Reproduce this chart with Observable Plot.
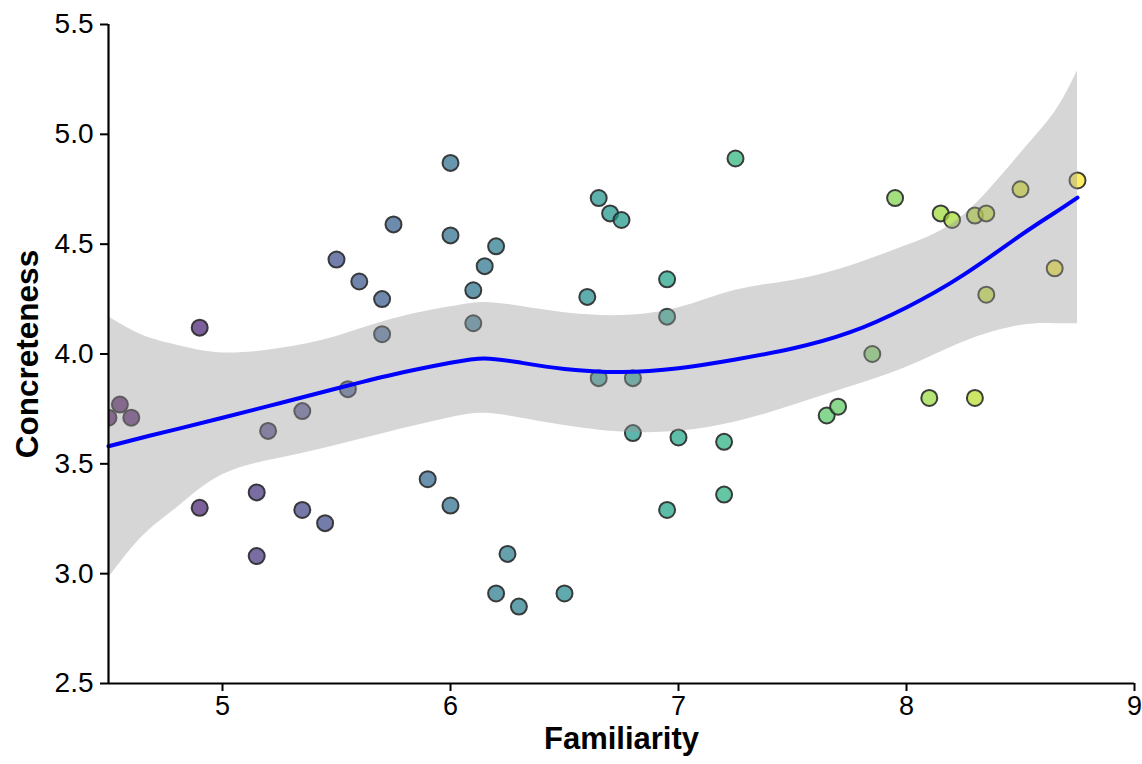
<!DOCTYPE html>
<html>
<head>
<meta charset="utf-8">
<script src="https://cdn.jsdelivr.net/npm/d3@7"></script>
<script src="https://cdn.jsdelivr.net/npm/@observablehq/plot@0.6"></script>
<style>
  html, body { margin: 0; padding: 0; background: #fff; }
  #chart svg { display: block; }
</style>
</head>
<body>
<div id="chart"></div>
<script>
// Scatter points
const familiarity = [4.5,4.55,4.6,4.9,4.9,5.15,5.15,5.2,5.35,5.35,5.45,5.5,5.55,5.6,5.7,5.7,5.75,5.9,6.0,6.0,6.0,6.1,6.1,6.15,6.2,6.2,6.25,6.3,6.5,6.6,6.65,6.65,6.7,6.75,6.8,6.8,6.95,6.95,6.95,7.0,7.2,7.2,7.25,7.65,7.7,7.85,7.95,8.1,8.15,8.2,8.3,8.3,8.35,8.35,8.5,8.65,8.75];
const concreteness = [3.71,3.77,3.71,4.12,3.30,3.37,3.08,3.65,3.74,3.29,3.23,4.43,3.84,4.33,4.25,4.09,4.59,3.43,4.87,4.54,3.31,4.29,4.14,4.40,4.49,2.91,3.09,2.85,2.91,4.26,4.71,3.89,4.64,4.61,3.89,3.64,4.34,4.17,3.29,3.62,3.60,3.36,4.89,3.72,3.76,4.00,4.71,3.80,4.64,4.61,4.63,3.80,4.64,4.27,4.75,4.39,4.79];

// Smoothed fit and confidence band
const smoothX   = [4.5, 4.65, 4.8, 5.0, 5.25, 5.5, 5.75, 6.0, 6.15, 6.3, 6.5, 6.75, 7.0, 7.25, 7.5, 7.75, 8.0, 8.25, 8.5, 8.65, 8.75];
const smoothFit = [3.58, 3.62, 3.658, 3.71, 3.776, 3.843, 3.907, 3.96, 3.98, 3.962, 3.932, 3.918, 3.935, 3.975, 4.025, 4.098, 4.212, 4.36, 4.54, 4.643, 4.712];
const smoothLo  = [2.98, 3.17, 3.30, 3.45, 3.525, 3.585, 3.65, 3.71, 3.73, 3.71, 3.675, 3.645, 3.648, 3.69, 3.765, 3.85, 3.94, 4.055, 4.13, 4.138, 4.138];
const smoothHi  = [4.17, 4.085, 4.04, 4.005, 4.025, 4.08, 4.16, 4.215, 4.235, 4.218, 4.188, 4.175, 4.21, 4.29, 4.335, 4.40, 4.494, 4.632, 4.913, 5.1, 5.29];

// Axis ticks and titles
const xTicks = [5, 6, 7, 8, 9];
const yTicks = [2.5, 3.0, 3.5, 4.0, 4.5, 5.0, 5.5];
const xTitle = "Familiarity";
const yTitle = "Concreteness";

const points = familiarity.map((f, i) => ({fam: f, conc: concreteness[i]}));
const smooth = smoothX.map((x, i) => ({x, fit: smoothFit[i], lo: smoothLo[i], hi: smoothHi[i]}));

const font = "'Liberation Sans', Arial, Helvetica, sans-serif";

const chart = Plot.plot({
  width: 1142,
  height: 764,
  marginLeft: 108,
  marginRight: 8,
  marginTop: 24,
  marginBottom: 81,
  style: {fontFamily: font, color: "#000", background: "#fff"},
  x: {domain: [4.5, 9]},
  y: {domain: [2.5, 5.5]},
  color: {type: "linear", scheme: "viridis", domain: [4.5, 8.75]},
  marks: [
    Plot.dot(points, {x: "fam", y: "conc", r: 8, fill: "fam", fillOpacity: 0.72, stroke: "#2a2a2a", strokeOpacity: 0.9, strokeWidth: 2, clip: true}),
    Plot.areaY(smooth, {x: "x", y1: "lo", y2: "hi", fill: "#999999", fillOpacity: 0.4, curve: "natural"}),
    Plot.line(smooth, {x: "x", y: "fit", stroke: "#0000ff", strokeWidth: 4, curve: "natural"}),
    Plot.ruleX([4.5], {stroke: "#000", strokeWidth: 2.2}),
    Plot.ruleY([2.5], {stroke: "#000", strokeWidth: 2.2}),
    Plot.axisX({ticks: xTicks, tickSize: 8, tickPadding: 4, fontSize: 27, label: null, strokeWidth: 2, tickFormat: d3.format("d")}),
    Plot.axisY({ticks: yTicks, tickSize: 8, tickPadding: 7, fontSize: 28, label: null, strokeWidth: 2, tickFormat: d3.format(".1f")}),
    Plot.text([xTitle], {frameAnchor: "bottom", dy: 65, fontSize: 31, fontWeight: "bold", fill: "#000"}),
    Plot.text([yTitle], {frameAnchor: "left", textAnchor: "middle", dx: -81, rotate: -90, fontSize: 31.5, fontWeight: "bold", fill: "#000"})
  ]
});

document.getElementById("chart").appendChild(chart);
</script>
</body>
</html>
